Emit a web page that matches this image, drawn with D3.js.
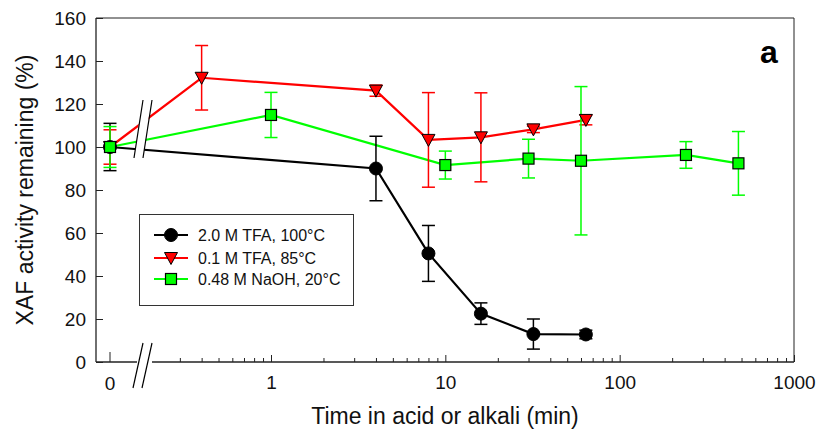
<!DOCTYPE html>
<html>
<head>
<meta charset="utf-8">
<script src="https://cdn.jsdelivr.net/npm/d3@7"></script>
<style>
  body { margin: 0; background: #fff; }
  text { font-family: Arial, "Liberation Sans", sans-serif; }
</style>
</head>
<body>
<svg id="chart" width="819" height="436"></svg>
<script>
// data (time in minutes, activity in %)
var blackTimes = [0, 4, 8, 16, 32, 64];
var blackVals  = [100, 90, 50.5, 22.5, 13, 12.8];
var blackErr   = [11, 15, 13, 5, 7, 2];

var redTimes = [0, 0.4, 4, 8, 16, 32, 64];
var redVals  = [100, 132.2, 126.2, 103.3, 104.5, 108.2, 112.6];
var redErr   = [8, 15, 2.6, 22, 20.7, 1.5, 2.3];

var greenTimes = [0, 1, 10, 30, 60, 240, 480];
var greenVals  = [100, 114.9, 91.6, 94.6, 93.6, 96.3, 92.4];
var greenErr   = [9.5, 10.5, 6.5, 9, 34.5, 6.2, 14.8];

var seriesNames = ['2.0 M TFA, 100°C', '0.1 M TFA, 85°C', '0.48 M NaOH, 20°C'];
var yTicks = [0, 20, 40, 60, 80, 100, 120, 140, 160];
var xMajor = [1, 10, 100, 1000];

var svg = d3.select('#chart');
var plotLeft = 96, plotRight = 794, plotTop = 18, plotBottom = 362;

var yScale = d3.scaleLinear().domain([0, 160]).range([plotBottom, plotTop]);
var xLog = d3.scaleLog().domain([1, 1000]).range([271, 794]);
var xZero = 110;
function xPos(t) { return t === 0 ? xZero : xLog(t); }

var series = [
  {name: seriesNames[0], color: '#000000', shape: 'circle', t: blackTimes, v: blackVals, e: blackErr},
  {name: seriesNames[1], color: '#ff0000', shape: 'triangle', t: redTimes, v: redVals, e: redErr},
  {name: seriesNames[2], color: '#00ff00', shape: 'square', t: greenTimes, v: greenVals, e: greenErr}
];
series.forEach(function(s) {
  s.points = s.t.map(function(t, i) { return {t: t, v: s.v[i], e: s.e[i]}; });
});

function marker(sel, shape, color) {
  if (shape === 'circle') {
    sel.append('circle').attr('r', 6.5).attr('fill', color).attr('stroke', '#000').attr('stroke-width', 1);
  } else if (shape === 'triangle') {
    sel.append('path').attr('d', 'M-6.5,-5.5L6.5,-5.5L0,6.5Z').attr('fill', color).attr('stroke', '#000').attr('stroke-width', 1);
  } else {
    sel.append('rect').attr('x', -5.5).attr('y', -5.5).attr('width', 11).attr('height', 11)
      .attr('fill', color).attr('stroke', '#000').attr('stroke-width', 1.2);
  }
}

var line = d3.line().x(function(d) { return xPos(d.t); }).y(function(d) { return yScale(d.v); });

// lines
series.forEach(function(s) {
  svg.append('path').datum(s.points)
    .attr('fill', 'none').attr('stroke', s.color).attr('stroke-width', 2.2)
    .attr('d', line);
});

// break on the data lines and on the axis
var breakBand = svg.append('g');
breakBand.append('path').attr('d', 'M143,95L152,95L142,165L133,165Z').attr('fill', '#fff');
breakBand.append('line').attr('x1', 143).attr('y1', 100).attr('x2', 134).attr('y2', 158).attr('stroke', '#000').attr('stroke-width', 1.2);
breakBand.append('line').attr('x1', 152).attr('y1', 100).attr('x2', 143).attr('y2', 158).attr('stroke', '#000').attr('stroke-width', 1.2);

// error bars and markers
series.forEach(function(s) {
  var g = svg.append('g');
  var eb = g.selectAll('.eb').data(s.points).enter().append('g')
    .attr('stroke', s.color).attr('stroke-width', 1.5);
  eb.append('line')
    .attr('x1', function(d) { return xPos(d.t); }).attr('x2', function(d) { return xPos(d.t); })
    .attr('y1', function(d) { return yScale(d.v + d.e); }).attr('y2', function(d) { return yScale(d.v - d.e); });
  [1, -1].forEach(function(sign) {
    eb.append('line')
      .attr('x1', function(d) { return xPos(d.t) - 6.5; }).attr('x2', function(d) { return xPos(d.t) + 6.5; })
      .attr('y1', function(d) { return yScale(d.v + sign * d.e); }).attr('y2', function(d) { return yScale(d.v + sign * d.e); });
  });
});
series.forEach(function(s) {
  svg.append('g').selectAll('.pt').data(s.points).enter().append('g')
    .attr('transform', function(d) { return 'translate(' + xPos(d.t) + ',' + yScale(d.v) + ')'; })
    .each(function() { marker(d3.select(this), s.shape, s.color); });
});

// frame
var axisColor = '#222';
svg.append('line').attr('x1', plotLeft).attr('x2', plotRight).attr('y1', plotTop).attr('y2', plotTop).attr('stroke', axisColor);
svg.append('line').attr('x1', plotRight).attr('x2', plotRight).attr('y1', plotTop).attr('y2', plotBottom).attr('stroke', axisColor);
svg.append('line').attr('x1', plotLeft).attr('x2', plotLeft).attr('y1', plotTop).attr('y2', plotBottom).attr('stroke', axisColor).attr('stroke-width', 1.3);
svg.append('line').attr('x1', plotLeft).attr('x2', 137).attr('y1', plotBottom).attr('y2', plotBottom).attr('stroke', axisColor).attr('stroke-width', 1.3);
svg.append('line').attr('x1', 152).attr('x2', plotRight).attr('y1', plotBottom).attr('y2', plotBottom).attr('stroke', axisColor).attr('stroke-width', 1.3);
svg.append('line').attr('x1', 143).attr('y1', 343).attr('x2', 133).attr('y2', 388).attr('stroke', '#000').attr('stroke-width', 1.2);
svg.append('line').attr('x1', 152).attr('y1', 343).attr('x2', 142).attr('y2', 388).attr('stroke', '#000').attr('stroke-width', 1.2);

// y axis (inward ticks)
var yAxis = d3.axisLeft(yScale).tickValues(yTicks).tickSizeInner(-7).tickSizeOuter(0).tickPadding(10);
var yG = svg.append('g').attr('transform', 'translate(' + plotLeft + ',0)').call(yAxis);
yG.select('.domain').remove();
yG.attr('font-size', 19).attr('font-family', 'Arial, Liberation Sans');
yG.selectAll('.tick line').attr('stroke', axisColor);
yG.selectAll('.tick text').attr('fill', '#111');

// x axis: log part with minor ticks
var minor = [];
for (var dec = 0.1; dec < 1000; dec *= 10) {
  for (var k = 2; k <= 9; k++) {
    var v = +(dec * k).toPrecision(3);
    if (v >= 0.3) minor.push(v);
  }
}
var xAxisMinor = d3.axisBottom(xLog).tickValues(minor).tickSizeInner(-4).tickSizeOuter(0).tickFormat('');
var xAxisMajor = d3.axisBottom(xLog).tickValues(xMajor).tickSizeInner(-7).tickSizeOuter(0).tickPadding(14).tickFormat(d3.format('d'));
var xm = svg.append('g').attr('transform', 'translate(0,' + plotBottom + ')').call(xAxisMinor);
xm.select('.domain').remove();
xm.selectAll('.tick line').attr('stroke', axisColor);
var xM = svg.append('g').attr('transform', 'translate(0,' + plotBottom + ')').call(xAxisMajor);
xM.select('.domain').remove();
xM.attr('font-size', 19).attr('font-family', 'Arial, Liberation Sans');
xM.selectAll('.tick line').attr('stroke', axisColor);
xM.selectAll('.tick text').attr('fill', '#111');
// zero tick
svg.append('line').attr('x1', xZero).attr('x2', xZero).attr('y1', plotBottom).attr('y2', plotBottom - 10).attr('stroke', axisColor);
svg.append('text').attr('x', xZero).attr('y', 390).attr('text-anchor', 'middle').attr('font-size', 19).attr('fill', '#111').text('0');

// axis titles
svg.append('text').attr('x', 445).attr('y', 424).attr('text-anchor', 'middle').attr('font-size', 23).attr('fill', '#111')
  .text('Time in acid or alkali (min)');
svg.append('text').attr('transform', 'translate(33,190) rotate(-90)').attr('text-anchor', 'middle').attr('font-size', 23).attr('fill', '#111')
  .text('XAF activity remaining (%)');

// panel letter
svg.append('text').attr('x', 769).attr('y', 63).attr('text-anchor', 'middle').attr('font-size', 32).attr('font-weight', 'bold').text('a');

// legend
var lg = svg.append('g');
lg.append('rect').attr('x', 139.5).attr('y', 214.5).attr('width', 214).attr('height', 91)
  .attr('fill', '#fff').attr('stroke', '#333').attr('stroke-width', 1);
var rowY = [235, 258, 279];
series.forEach(function(s, i) {
  var r = lg.append('g').attr('transform', 'translate(0,' + rowY[i] + ')');
  r.append('line').attr('x1', 154).attr('x2', 188).attr('y1', 0).attr('y2', 0).attr('stroke', s.color).attr('stroke-width', 2.2);
  var m = r.append('g').attr('transform', 'translate(171,0)');
  marker(m, s.shape, s.color);
  r.append('text').attr('x', 198).attr('y', 5.5).attr('font-size', 16).attr('fill', '#111').text(s.name);
});
</script>
</body>
</html>
